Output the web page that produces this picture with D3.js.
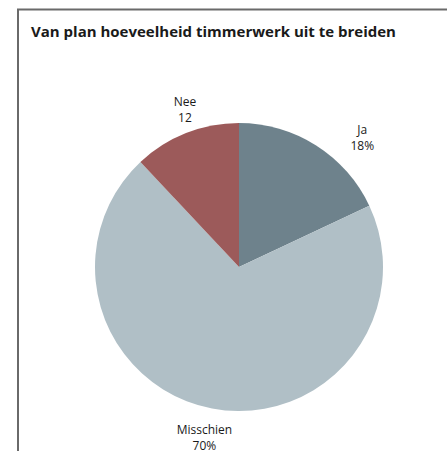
<!DOCTYPE html>
<html>
<head>
<meta charset="utf-8">
<script src="https://cdn.jsdelivr.net/npm/d3@7"></script>
<style>
  body { margin: 0; background: #fff; }
  text { font-family: "Open Sans", "Noto Sans", sans-serif; fill: #1a1a1a; }
</style>
</head>
<body>
<div id="chart"></div>
<script>
var categories = ["Ja", "Misschien", "Nee"];
var values = [18, 70, 12];
var labels = ["18%", "70%", "12"];
var colours = ["#6e828c", "#b0bfc6", "#9c5a5a"];

var width = 447,
    height = 451,
    cx = 239,
    cy = 267,
    radius = 144;

var svg = d3.select("#chart").append("svg")
    .attr("width", width)
    .attr("height", height);

// frame: top and left rules only
svg.append("path")
    .attr("d", "M18," + height + "V9.5H" + width)
    .attr("fill", "none")
    .attr("stroke", "#6a6a6a")
    .attr("stroke-width", 2);

svg.append("text")
    .attr("x", 31)
    .attr("y", 37)
    .style("font-size", "15px")
    .style("font-weight", "bold")
    .text("Van plan hoeveelheid timmerwerk uit te breiden");

var pie = d3.pie().sort(null).value(function(d) { return d; });
var arcs = pie(values);

var arc = d3.arc().innerRadius(0).outerRadius(radius);

var g = svg.append("g")
    .attr("transform", "translate(" + cx + "," + cy + ")");

g.selectAll("path.slice")
    .data(arcs)
  .enter().append("path")
    .attr("class", "slice")
    .attr("d", arc)
    .attr("fill", function(d, i) { return colours[i]; });

// labels sit just outside the slice, name above value
var labelArc = d3.arc().innerRadius(radius + 30).outerRadius(radius + 30);
var offsets = [[30, 18], [-2, 0], [10, 5]];

var lab = g.selectAll("g.label")
    .data(arcs)
  .enter().append("g")
    .attr("class", "label")
    .attr("transform", function(d, i) {
      var c = labelArc.centroid(d);
      return "translate(" + (c[0] + offsets[i][0]) + "," + (c[1] + offsets[i][1]) + ")";
    });

lab.append("text")
    .attr("text-anchor", "middle")
    .attr("y", -4)
    .style("font-size", "12px")
    .text(function(d, i) { return categories[i]; });

lab.append("text")
    .attr("text-anchor", "middle")
    .attr("y", 12)
    .style("font-size", "12px")
    .text(function(d, i) { return labels[i]; });
</script>
</body>
</html>
